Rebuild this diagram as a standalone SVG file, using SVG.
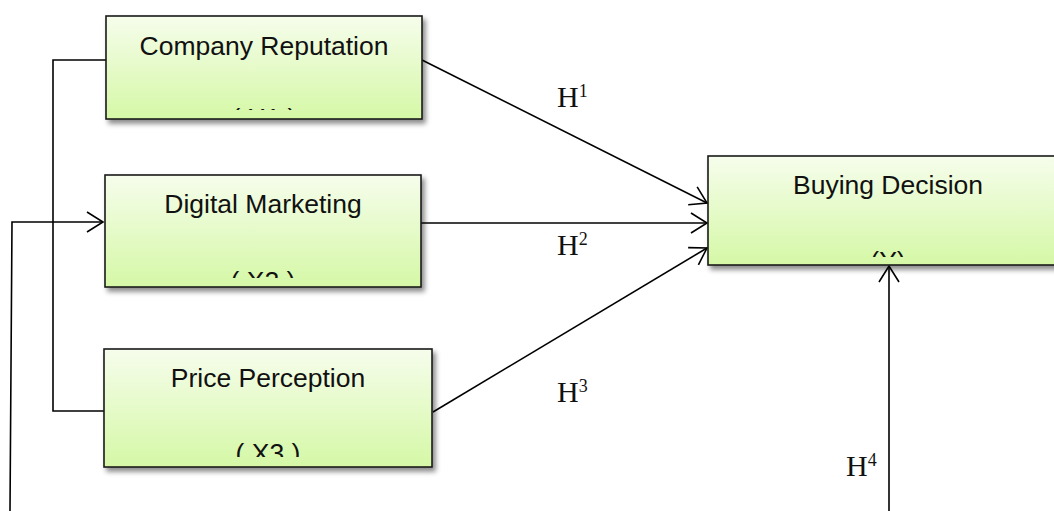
<svg xmlns="http://www.w3.org/2000/svg" width="1054" height="511" viewBox="0 0 1054 511">
<style>
.box{fill:url(#g);stroke:#1a1a1a;stroke-width:1.6;filter:url(#sh)}
.t{font-family:"Liberation Sans",Arial,sans-serif;font-size:26.5px;fill:#111;text-anchor:middle}
.h{font-family:"Liberation Serif","Times New Roman",serif;font-size:30px;fill:#111}
.sup{font-size:18px}
.ln{fill:none;stroke:#000;stroke-width:1.6}
</style>
<defs>
<linearGradient id="g" x1="0" y1="0" x2="0" y2="1">
<stop offset="0" stop-color="#f6fdec"/>
<stop offset="1" stop-color="#d5f8a6"/>
</linearGradient>
<filter id="sh" x="-5%" y="-10%" width="115%" height="130%">
<feDropShadow dx="3" dy="4" stdDeviation="2.5" flood-color="#000" flood-opacity="0.45"/>
</filter>
<marker id="a" markerUnits="userSpaceOnUse" markerWidth="20" markerHeight="24" refX="17" refY="11" orient="auto">
<path d="M1,1 L17,11 L1,21" fill="none" stroke="#000" stroke-width="1.6"/>
</marker>
<clipPath id="c1"><rect x="106" y="16" width="316" height="94"/></clipPath>
<clipPath id="c2"><rect x="105" y="175" width="316" height="103"/></clipPath>
<clipPath id="c3"><rect x="104" y="349" width="328" height="108"/></clipPath>
<clipPath id="c4"><rect x="708" y="156" width="360" height="101"/></clipPath>
</defs>
<g id="connectors">
<path class="ln" d="M422,60 L707,203" marker-end="url(#a)"/>
<path class="ln" d="M421,223 L707,223" marker-end="url(#a)"/>
<path class="ln" d="M433,412 L707,248" marker-end="url(#a)"/>
<path class="ln" d="M889,511 L889,266" marker-end="url(#a)"/>
<path class="ln" d="M106,60 L53,60 L53,411 L104,411"/>
<path class="ln" d="M10,511 L12,222 L103,222" marker-end="url(#a)"/>
</g>
<g id="company-reputation">
<rect class="box" x="106" y="16" width="316" height="103"/>
<g clip-path="url(#c1)">
<text class="t" x="264" y="55">Company Reputation</text>
<text class="t" x="264" y="127">( X1 )</text>
</g>
</g>
<g id="digital-marketing">
<rect class="box" x="105" y="175" width="316" height="112"/>
<g clip-path="url(#c2)">
<text class="t" x="263" y="213">Digital Marketing</text>
<text class="t" x="263" y="290">( X2 )</text>
</g>
</g>
<g id="price-perception">
<rect class="box" x="104" y="349" width="328" height="118"/>
<g clip-path="url(#c3)">
<text class="t" x="268" y="387">Price Perception</text>
<text class="t" x="268" y="462">( X3 )</text>
</g>
</g>
<g id="buying-decision">
<rect class="box" x="708" y="156" width="360" height="109"/>
<g clip-path="url(#c4)">
<text class="t" x="888" y="194">Buying Decision</text>
<text class="t" x="888" y="270">(Y)</text>
</g>
</g>
<g id="labels">
<text class="h" x="557" y="107">H<tspan class="sup" dy="-10">1</tspan></text>
<text class="h" x="557" y="255">H<tspan class="sup" dy="-10">2</tspan></text>
<text class="h" x="557" y="402">H<tspan class="sup" dy="-10">3</tspan></text>
<text class="h" x="846" y="476">H<tspan class="sup" dy="-10">4</tspan></text>
</g>
</svg>
